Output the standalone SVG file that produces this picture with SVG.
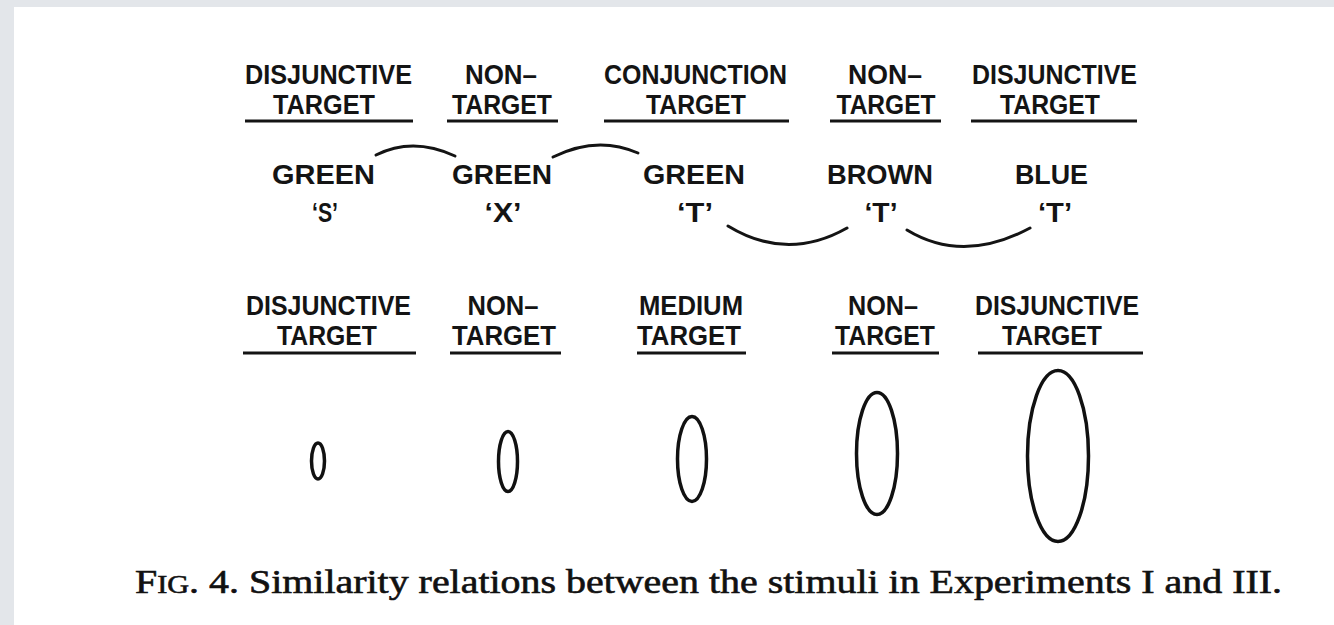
<svg xmlns="http://www.w3.org/2000/svg" width="1334" height="625" viewBox="0 0 1334 625">
<style>
.h{font-family:"Liberation Sans",Arial,sans-serif;font-weight:bold;font-size:27px;fill:#141414;text-anchor:middle}
.s{font-family:"Liberation Sans",Arial,sans-serif;font-weight:bold;font-size:28px;fill:#141414;text-anchor:middle}
.u{stroke:#141414;stroke-width:3;fill:none}
.c{stroke:#141414;stroke-width:3;fill:none;stroke-linecap:round}
.e{stroke:#111;stroke-width:3.5;fill:none}
.cap{font-family:"Liberation Serif","Times New Roman",serif;font-size:33px;fill:#111;stroke:#111;stroke-width:0.6}
</style>
<rect x="0" y="0" width="1334" height="625" fill="#e3e6ea"/>
<rect x="14" y="7" width="1320" height="618" fill="#ffffff"/>

<g id="row1-disjunctive-left">
<text class="h" x="328.5" y="84" textLength="167" lengthAdjust="spacingAndGlyphs">DISJUNCTIVE</text>
<text class="h" x="324" y="114" textLength="102" lengthAdjust="spacingAndGlyphs">TARGET</text>
<line class="u" x1="245" y1="121" x2="413" y2="121"/>
</g>
<g id="row1-nontarget-left">
<text class="h" x="501" y="84" textLength="72" lengthAdjust="spacingAndGlyphs">NON–</text>
<text class="h" x="502" y="114" textLength="100" lengthAdjust="spacingAndGlyphs">TARGET</text>
<line class="u" x1="447" y1="121" x2="558" y2="121"/>
</g>
<g id="row1-conjunction">
<text class="h" x="695.5" y="84" textLength="183" lengthAdjust="spacingAndGlyphs">CONJUNCTION</text>
<text class="h" x="696" y="114" textLength="100" lengthAdjust="spacingAndGlyphs">TARGET</text>
<line class="u" x1="604" y1="121" x2="789" y2="121"/>
</g>
<g id="row1-nontarget-right">
<text class="h" x="885" y="84" textLength="74" lengthAdjust="spacingAndGlyphs">NON–</text>
<text class="h" x="886" y="114" textLength="99" lengthAdjust="spacingAndGlyphs">TARGET</text>
<line class="u" x1="830" y1="121" x2="941" y2="121"/>
</g>
<g id="row1-disjunctive-right">
<text class="h" x="1054.5" y="84" textLength="165" lengthAdjust="spacingAndGlyphs">DISJUNCTIVE</text>
<text class="h" x="1050" y="114" textLength="100" lengthAdjust="spacingAndGlyphs">TARGET</text>
<line class="u" x1="971" y1="121" x2="1137" y2="121"/>
</g>

<g id="stim-green-s">
<text class="s" x="323.5" y="184" textLength="103" lengthAdjust="spacingAndGlyphs">GREEN</text>
<text class="s" x="325" y="222" textLength="26" lengthAdjust="spacingAndGlyphs">‘S’</text>
</g>
<g id="stim-green-x">
<text class="s" x="502" y="184" textLength="100" lengthAdjust="spacingAndGlyphs">GREEN</text>
<text class="s" x="503" y="222" textLength="37" lengthAdjust="spacingAndGlyphs">‘X’</text>
</g>
<g id="stim-green-t">
<text class="s" x="694" y="184" textLength="102" lengthAdjust="spacingAndGlyphs">GREEN</text>
<text class="s" x="695" y="222" textLength="36" lengthAdjust="spacingAndGlyphs">‘T’</text>
</g>
<g id="stim-brown-t">
<text class="s" x="880" y="184" textLength="106" lengthAdjust="spacingAndGlyphs">BROWN</text>
<text class="s" x="881" y="222" textLength="33" lengthAdjust="spacingAndGlyphs">‘T’</text>
</g>
<g id="stim-blue-t">
<text class="s" x="1051.5" y="184" textLength="73" lengthAdjust="spacingAndGlyphs">BLUE</text>
<text class="s" x="1055" y="222" textLength="34" lengthAdjust="spacingAndGlyphs">‘T’</text>
</g>

<g id="connectors">
<path class="c" d="M376,155 Q413,136.5 455,156"/>
<path class="c" d="M553,157 Q597,135 638,153"/>
<path class="c" d="M728,226 Q787,262 847,228"/>
<path class="c" d="M907,230 Q963,264 1030,228"/>
</g>

<g id="row3-disjunctive-left">
<text class="h" x="328.5" y="315" textLength="165" lengthAdjust="spacingAndGlyphs">DISJUNCTIVE</text>
<text class="h" x="327" y="345" textLength="100" lengthAdjust="spacingAndGlyphs">TARGET</text>
<line class="u" x1="243" y1="353" x2="416" y2="353"/>
</g>
<g id="row3-nontarget-left">
<text class="h" x="503" y="315" textLength="71" lengthAdjust="spacingAndGlyphs">NON–</text>
<text class="h" x="504" y="345" textLength="104" lengthAdjust="spacingAndGlyphs">TARGET</text>
<line class="u" x1="450" y1="353" x2="561" y2="353"/>
</g>
<g id="row3-medium">
<text class="h" x="691" y="315" textLength="104" lengthAdjust="spacingAndGlyphs">MEDIUM</text>
<text class="h" x="689" y="345" textLength="104" lengthAdjust="spacingAndGlyphs">TARGET</text>
<line class="u" x1="637" y1="353" x2="746" y2="353"/>
</g>
<g id="row3-nontarget-right">
<text class="h" x="883" y="315" textLength="70" lengthAdjust="spacingAndGlyphs">NON–</text>
<text class="h" x="885" y="345" textLength="100" lengthAdjust="spacingAndGlyphs">TARGET</text>
<line class="u" x1="832" y1="353" x2="939" y2="353"/>
</g>
<g id="row3-disjunctive-right">
<text class="h" x="1057" y="315" textLength="164" lengthAdjust="spacingAndGlyphs">DISJUNCTIVE</text>
<text class="h" x="1052" y="345" textLength="100" lengthAdjust="spacingAndGlyphs">TARGET</text>
<line class="u" x1="978" y1="353" x2="1143" y2="353"/>
</g>

<g id="ellipse-1"><ellipse class="e" cx="318" cy="461" rx="6.5" ry="18"/></g>
<g id="ellipse-2"><ellipse class="e" cx="508" cy="461.5" rx="9.5" ry="30"/></g>
<g id="ellipse-3"><ellipse class="e" cx="692" cy="459" rx="14.5" ry="42.5"/></g>
<g id="ellipse-4"><ellipse class="e" cx="877" cy="453.5" rx="20.5" ry="61"/></g>
<g id="ellipse-5"><ellipse class="e" cx="1058" cy="456" rx="30.5" ry="85.5"/></g>

<g id="caption">
<text class="cap" x="135" y="593" textLength="1147" lengthAdjust="spacingAndGlyphs">F<tspan font-size="25">IG</tspan>. 4.  Similarity relations between the stimuli in Experiments I and III.</text>
</g>
</svg>
